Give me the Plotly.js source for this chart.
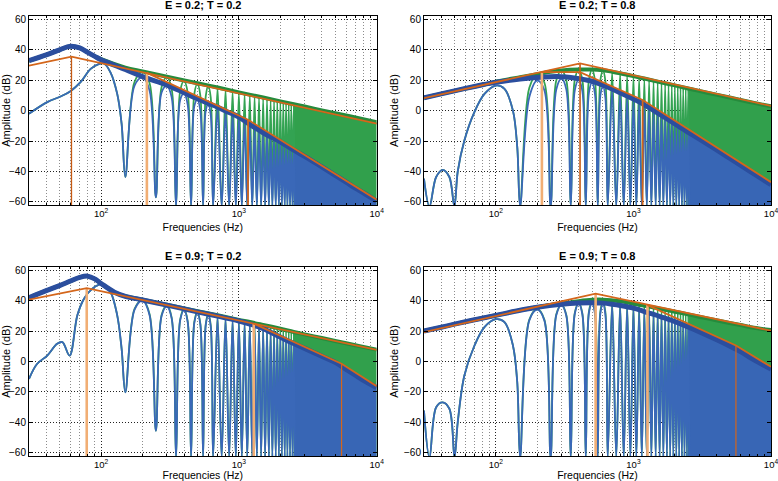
<!DOCTYPE html>
<html><head><meta charset="utf-8">
<script src="https://cdn.plot.ly/plotly-3.0.1.min.js"></script>
<style>html,body{margin:0;padding:0;background:#fff}#chart{width:778px;height:481px}</style>
</head><body><div id="chart"></div>
<script>
// ---------------- shared frequencies (Hz) ----------------
const lobeF = [200,300,400,500,600,700,800,900,1000,1100,1200,1300,1400,1500,1600,1700,1800,1900,2000,2100,2200,2300,2400,2500];
const nullF = [250,350,450,550,650,750,850,950,1050,1150,1250,1350,1450,1550,1650,1750,1850,1950,2050,2150,2250,2350,2450,2550];
const shoulderF = [175,225,275,325,375,425,475,525,575,625];
const titles = ['E = 0.2; T = 0.2', 'E = 0.2; T = 0.8', 'E = 0.9; T = 0.2', 'E = 0.9; T = 0.8'];
const xTickVals = [100, 1000, 10000];
const xTickText = ['10<sup>2</sup>', '10<sup>3</sup>', '10<sup>4</sup>'];

// ---------------- panel 1 : E = 0.2; T = 0.2 ----------------
const p1_lowF = [30, 40.7, 50.8, 60, 71, 84, 97, 105, 117, 131, 141, 150];
const p1_lowDb = [-2, 5.6, 9.3, 12.8, 18.7, 27.4, 30.7, 31, 25.2, 11, -8.7, -43.6];
const p1_bluePeak = [21.8,16.3,11.3,7.3,4.3,1.8,-0.7,-2.7,-4.7,-7,-9.5,-11.3,-13,-14.8,-16.2,-17.5,-18.7,-19.8,-21,-22.1,-23.2,-24.2,-25.2,-26.2];
const p1_blueNull = [-57,-63,-63,-63,-63,-63,-63,-63,-63,-63,-63,-63,-63,-63,-63,-63,-63,-63,-63,-63,-63,-63,-63,-63];
const p1_blueSh = [16.5,13,12,9,7,4,3,0,0,-3];
const p1_greenPeak = [25.5,22,19.6,17.7,16.2,14.9,13.8,12.8,11.8,11,10.3,9.6,9,8.4,7.9,7.4,6.9,6.5,6,5.6,5.2,4.9,4.5,4.2];
const p1_greenSh = [19,18,15.5,14.5,13,12,11,10,9.5,8.5];
const p1_envF = [30,40,50,60,70,80,90,100,150,200,300,400,500,600,700,800,900,1000,1200,1500,2000,2500,3000,4000,5000,6000,7000,8000,10000];
const p1_envDb = [32.8,36.6,40,42.3,41.2,38.3,35.7,33.5,27,22.3,16.8,11.8,7.8,4.8,2.3,-0.2,-2.2,-4.2,-9,-14.5,-20.5,-26,-30,-37,-42.5,-47,-51,-54,-59.5];
const p1_genvF = [30,40,50,60,70,80,90,100,150,200,300,500,700,1000,1500,2000,2500,3000,4000,5000,7000,10000];
const p1_genvDb = [32.8,36.6,40,42.3,41.2,38.3,35.7,33.8,28.3,25.8,22.3,18,15.2,12,8.6,6.1,4.2,2.7,0.2,-1.7,-4.5,-7.6];
const p1_upF = [30, 61, 10000], p1_upDb = [29.6, 35.5, -8.5];
const p1_loF = [215, 1165, 10000], p1_loDb = [24.8, -6, -58.5];
const p1_vF = [61, 215, 1165], p1_vTop = [35.5, 24.8, -6];

// ---------------- panel 2 : E = 0.2; T = 0.8 ----------------
const p2_lowF = [30, 32.9, 36.8, 41.1, 45.9, 49.9, 52.8, 59, 69.9, 82.6, 100, 115.5, 133, 143, 150];
const p2_lowDb = [-44.7, -63, -43.6, -38.9, -43.6, -63, -40, -19.6, -0.8, 11, 16.5, 14.3, 0, -24, -63];
const p2_bluePeak = [19.8,21,20.2,18.5,16,13.5,11,8.8,6.8,5,3,1.2,-0.6,-2.3,-4,-5.5,-6.9,-8.2,-9.5,-10.7,-11.9,-13,-14,-15];
const p2_blueNull = [-63,-63,-63,-63,-63,-63,-63,-63,-63,-63,-63,-63,-63,-63,-63,-63,-63,-63,-63,-63,-63,-63,-63,-63];
const p2_blueSh = [9,13.5,14,14,13.5,13,12,11,10,8.5];
const p2_greenPeak = [24,26.3,26.8,26.8,26.3,25.4,24.4,23.4,22.5,21.7,20.9,20.2,19.6,19,18.5,18,17.5,17,16.5,16.1,15.7,15.3,14.9,14.6];
const p2_greenSh = [15,18.5,20,20,20.5,20.3,20.5,20,20,19.5];
const p2_envF = [30,40,50,60,70,80,90,100,150,200,250,300,350,400,500,600,700,800,900,1000,1100,1200,1400,1600,2000,2500,3000,4000,5000,6000,7000,8000,10000];
const p2_envDb = [8.5,11,13,14.6,15.9,17,17.9,18.6,20.8,21.8,22.3,22.3,21.8,21,19.3,16.8,14.3,11.8,9.6,7.6,5.8,3.8,0.2,-3.2,-8.7,-14.2,-18.5,-25.6,-31.3,-35.9,-39.8,-43.1,-48.7];
const p2_genvF = [30,40,50,60,70,80,90,100,150,200,250,300,400,500,600,700,800,900,1000,1200,1500,2000,2500,3000,4000,5000,6000,7000,8000,10000];
const p2_genvDb = [8.5,11,13,14.6,15.9,17,17.9,19,22,24,25.5,26.4,27,27,26.5,25.6,24.6,23.6,22.7,21.1,19.1,16.6,14.6,13,10.5,8.6,7,5.7,4.6,2.8];
const p2_upF = [30, 409, 10000], p2_upDb = [8.2, 31.1, 3.1];
const p2_loF = [216, 409, 1166, 10000], p2_loDb = [25.3, 25.3, 7, -47];
const p2_vF = [216, 409, 1166], p2_vTop = [25.3, 31.1, 7];

// ---------------- panel 3 : E = 0.9; T = 0.2 ----------------
const p3_lowF = [30, 34.4, 40.7, 48, 52.4, 59.1, 67.3, 75.2, 86.4, 96.7, 102, 117, 131, 141, 150];
const p3_lowDb = [-11.4, -1.5, 3.9, 11.6, 12.7, 3.9, 30.3, 41.2, 47.8, 50.4, 51, 45.6, 30.3, 8.3, -20.2];
const p3_bluePeak = [40,36,33.6,31.8,30.2,29,28,27,26,25,24,23,22,21,19.8,18.6,17.5,16.4,15.4,14.5,13.6,12.7,11.9,11.2];
const p3_blueNull = [-45.5,-63,-63,-63,-63,-63,-63,-63,-63,-63,-63,-63,-63,-63,-63,-63,-63,-63,-63,-63,-63,-63,-63,-63];
const p3_blueSh = [34,30.3,30,28.5,27,26,25.3,24.3,23.7,22.8];
const p3_greenPeak = [40.4,37,34.5,32.6,31.2,29.9,28.8,27.8,27,26.2,25.5,24.9,24.3,23.7,23.2,22.7,22.2,21.8,21.4,21,20.6,20.2,19.8,19.5];
const p3_greenSh = [34.5,31,30.5,29,27.5,26.5,26,25,24.5,23.8];
const p3_envF = [30,40,50,60,70,80,90,100,125,150,200,300,500,700,1000,1200,1500,2000,2500,3000,4000,5000,6000,7000,8000,10000];
const p3_envDb = [41.9,46.5,49.8,52.8,55.2,56,54.2,51.2,45.5,42.8,40.4,37,32.6,29.8,26.6,24.6,21.6,16,11.8,8.6,3.4,-0.6,-5.2,-9,-12.3,-17];
const p3_genvF = [30,40,50,60,70,80,90,100,125,150,200,300,500,700,1000,1200,1500,2000,2500,3000,4000,5000,6000,7000,8000,10000];
const p3_genvDb = [41.9,46.5,49.8,52.8,55.2,56,54.2,51.2,45.5,42.8,40.5,37.2,33,30.3,27.3,25.9,24,21.5,19.4,17.8,15.4,13.5,12,10.7,9.6,7.8];
const p3_upF = [30, 78.7, 10000], p3_upDb = [40.6, 48.2, 7.7];
const p3_loF = [1282, 5560, 10000], p3_loDb = [24.9, -1.5, -16.2];
const p3_vF = [78.7, 1282, 5560], p3_vTop = [48.2, 24.9, -1.5];

// ---------------- panel 4 : E = 0.9; T = 0.8 ----------------
const p4_lowF = [30, 32.9, 36.8, 41, 45.9, 50, 52.8, 59, 69.9, 82.6, 100, 115.5, 133, 143, 150];
const p4_lowDb = [-32.2, -63, -30, -26.8, -31, -63, -39.9, -9.2, 10.5, 22.6, 27.8, 25.9, 10.5, -13.6, -63];
const p4_bluePeak = [34,36.8,37.8,38.1,37.9,37.2,36.4,35.6,34.6,33.6,32.6,31.5,30.6,29.7,28.9,28.1,27.3,26.6,25.9,25.2,24.5,23.8,23.2,22.4];
const p4_blueNull = [-63,-63,-63,-63,-63,-63,-63,-63,-63,-63,-63,-63,-63,-63,-63,-63,-63,-63,-63,-63,-63,-63,-63,-63];
const p4_blueSh = [27,27,30.5,30,31.5,31,32,31.3,31.5,30.8];
const p4_greenPeak = [34.3,37.2,38.5,39.3,39.5,39.2,38.7,38.2,37.7,37.1,36.5,35.9,35.4,34.9,34.4,34,33.6,33.2,32.7,32.3,31.9,31.6,31.2,30.9];
const p4_greenSh = [27.5,27.5,31,30.5,32,31.7,33,32.5,33,32.5];
const p4_envF = [30,40,50,70,100,150,200,300,400,500,600,700,800,1000,1300,1600,2000,2500,3000,4000,5000,6000,7000,8000,10000];
const p4_envDb = [20,22.5,24.5,27.4,30.3,33.6,35.6,37.6,38.4,38.6,38.3,37.6,36.8,35,31.8,29.2,26.2,22.6,19.5,14.4,10.2,6.5,2.8,-0.2,-5];
const p4_genvF = [30,40,50,70,100,150,200,300,400,500,600,800,1000,1300,1600,2000,2500,3000,4000,5000,6000,7000,8000,10000];
const p4_genvDb = [20,22.5,24.5,27.4,30.3,33.6,35.6,38,39.6,40.5,40.6,39.5,37.9,36,34.4,32.7,30.9,29.4,27.1,25.3,23.9,22.7,21.8,20.6];
const p4_upF = [30, 531, 10000], p4_upDb = [19.3, 44.5, 20.2];
const p4_loF = [1265, 5560, 10000], p4_loDb = [37, 10.5, -3.5];
const p4_vF = [531, 1265, 5560], p4_vTop = [44.5, 37, 10.5];

// ---------------- styling ----------------
const Y_MIN = -62, Y_MAX = 62.2, F_MIN = 30, F_MAX = 10000, FILL_FROM = 2500, BASE = -63;
const BLUE = '#3a68b8', BLUE_DARK = '#2b4e9e', BLUE_FILL = '#3866b5';
const GREEN = '#33a352', GREEN_DARK = '#268b3c', GREEN_FILL = '#31a04c';
const ORANGE = '#d4661b', ORANGE_DARK = '#c65a12', ORANGE_LIGHT = '#f1ae74';
const vStyles = [
  [[ORANGE_DARK,1.3],[ORANGE_LIGHT,2.6],[ORANGE,1.8]],
  [[ORANGE_LIGHT,2.6],[ORANGE_DARK,1.6],[ORANGE,1.8]],
  [[ORANGE_LIGHT,2.6],[ORANGE_LIGHT,2.6],[ORANGE,1.2]],
  [[ORANGE_LIGHT,2.6],[ORANGE_LIGHT,2.6],[ORANGE,1.2]]
];

const panels = [
  {lowF:p1_lowF, lowDb:p1_lowDb, bPk:p1_bluePeak, nul:p1_blueNull, bSh:p1_blueSh, gPk:p1_greenPeak, gSh:p1_greenSh, envF:p1_envF, envDb:p1_envDb, genvF:p1_genvF, genvDb:p1_genvDb, upF:p1_upF, upDb:p1_upDb, loF:p1_loF, loDb:p1_loDb, vF:p1_vF, vTop:p1_vTop},
  {lowF:p2_lowF, lowDb:p2_lowDb, bPk:p2_bluePeak, nul:p2_blueNull, bSh:p2_blueSh, gPk:p2_greenPeak, gSh:p2_greenSh, envF:p2_envF, envDb:p2_envDb, genvF:p2_genvF, genvDb:p2_genvDb, upF:p2_upF, upDb:p2_upDb, loF:p2_loF, loDb:p2_loDb, vF:p2_vF, vTop:p2_vTop},
  {lowF:p3_lowF, lowDb:p3_lowDb, bPk:p3_bluePeak, nul:p3_blueNull, bSh:p3_blueSh, gPk:p3_greenPeak, gSh:p3_greenSh, envF:p3_envF, envDb:p3_envDb, genvF:p3_genvF, genvDb:p3_genvDb, upF:p3_upF, upDb:p3_upDb, loF:p3_loF, loDb:p3_loDb, vF:p3_vF, vTop:p3_vTop},
  {lowF:p4_lowF, lowDb:p4_lowDb, bPk:p4_bluePeak, nul:p4_blueNull, bSh:p4_blueSh, gPk:p4_greenPeak, gSh:p4_greenSh, envF:p4_envF, envDb:p4_envDb, genvF:p4_genvF, genvDb:p4_genvDb, upF:p4_upF, upDb:p4_upDb, loF:p4_loF, loDb:p4_loDb, vF:p4_vF, vTop:p4_vTop}
];

// build a lobed line from read points: low part, then shoulder / peak / shoulder / null per harmonic
function lobes(lowF, lowDb, peaks, nulls, sh) {
  const x = lowF.slice(), y = lowDb.slice();
  for (let i = 0; i < lobeF.length; i++) {
    if (2*i < shoulderF.length) { x.push(shoulderF[2*i]); y.push(sh[2*i]); }
    x.push(lobeF[i]); y.push(peaks[i]);
    if (2*i+1 < shoulderF.length) { x.push(shoulderF[2*i+1]); y.push(sh[2*i+1]); }
    x.push(nullF[i]); y.push(nulls[i]);
  }
  return {x, y};
}
// area under an envelope (subset of its points from a frequency on)
function fillPoly(F, Db, fromF) {
  const x = [], y = [];
  F.forEach((f, i) => { if (f >= fromF) { x.push(f); y.push(Db[i]); } });
  x.push(x[x.length-1], x[0]); y.push(BASE, BASE);
  return {x, y};
}

const traces = [];
panels.forEach((p, i) => {
  const xa = i === 0 ? 'x' : 'x' + (i+1), ya = i === 0 ? 'y' : 'y' + (i+1);
  const base = {xaxis: xa, yaxis: ya, mode: 'lines', hoverinfo: 'skip', showlegend: false};
  const gf = fillPoly(p.genvF, p.genvDb, FILL_FROM);
  traces.push({...base, x: gf.x, y: gf.y, fill: 'toself', fillcolor: GREEN_FILL, line: {width: 0, color: GREEN_FILL}});
  const gl = lobes(p.lowF, p.lowDb, p.gPk, p.nul, p.gSh);
  traces.push({...base, x: gl.x, y: gl.y, line: {color: GREEN, width: 1.8, shape: 'spline'}});
  traces.push({...base, x: p.genvF, y: p.genvDb, line: {color: GREEN_DARK, width: 4, shape: 'spline'}});
  const bf = fillPoly(p.envF, p.envDb, FILL_FROM);
  traces.push({...base, x: bf.x, y: bf.y, fill: 'toself', fillcolor: BLUE_FILL, line: {width: 0, color: BLUE_FILL}});
  const bl = lobes(p.lowF, p.lowDb, p.bPk, p.nul, p.bSh);
  traces.push({...base, x: bl.x, y: bl.y, line: {color: BLUE, width: 1.8, shape: 'spline'}});
  traces.push({...base, x: p.envF, y: p.envDb, line: {color: BLUE_DARK, width: 5, shape: 'spline'}});
  p.vF.forEach((f, k) => {
    traces.push({...base, x: [f, f], y: [BASE, p.vTop[k]], line: {color: vStyles[i][k][0], width: vStyles[i][k][1]}});
  });
  traces.push({...base, x: p.upF, y: p.upDb, line: {color: ORANGE, width: 1.8}});
  traces.push({...base, x: p.loF, y: p.loDb, line: {color: ORANGE, width: 1.8}});
});

const FONT = 'Liberation Sans, Arial, Helvetica, sans-serif';
const GRID_DASH = '1px,2px';
function xAxis(domain, anchor) {
  return {
    type: 'log', range: [Math.log10(F_MIN), Math.log10(F_MAX)], domain, anchor,
    tickmode: 'array', tickvals: xTickVals, ticktext: xTickText, ticklabeloverflow: 'allow',
    ticks: 'inside', ticklen: 4, tickcolor: '#000', showline: true, linecolor: '#000', linewidth: 1, mirror: 'ticks',
    showgrid: true, gridcolor: '#222', griddash: GRID_DASH, gridwidth: 1, zeroline: false,
    minor: {tickmode: 'linear', dtick: 'D1', showgrid: true, gridcolor: '#8c8c8c', griddash: GRID_DASH, gridwidth: 1, ticks: 'inside', ticklen: 2, tickcolor: '#000'},
    tickfont: {size: 9.5, family: FONT, color: '#000'},
    title: {text: 'Frequencies (Hz)', font: {size: 10.5, family: FONT, color: '#000'}, standoff: 5}
  };
}
function yAxis(domain, anchor) {
  return {
    range: [Y_MIN, Y_MAX], domain, anchor, tickmode: 'linear', tick0: 0, dtick: 20,
    ticks: 'inside', ticklen: 4, tickcolor: '#000', showline: true, linecolor: '#000', linewidth: 1, mirror: 'ticks',
    showgrid: true, gridcolor: '#222', griddash: GRID_DASH, gridwidth: 1, zeroline: false,
    tickfont: {size: 10, family: FONT, color: '#000'},
    title: {text: 'Amplitude (dB)', font: {size: 11, family: FONT, color: '#000'}, standoff: 3}
  };
}
const dxL = [0, 0.4686], dxR = [0.5323, 1], dyT = [0.5705, 1], dyB = [0, 0.4302];
const layout = {
  width: 778, height: 481, margin: {l: 29, r: 7, t: 16, b: 25},
  paper_bgcolor: '#fff', plot_bgcolor: '#fff', showlegend: false,
  font: {family: FONT, size: 10, color: '#000'},
  xaxis: xAxis(dxL, 'y'), yaxis: yAxis(dyT, 'x'),
  xaxis2: xAxis(dxR, 'y2'), yaxis2: yAxis(dyT, 'x2'),
  xaxis3: xAxis(dxL, 'y3'), yaxis3: yAxis(dyB, 'x3'),
  xaxis4: xAxis(dxR, 'y4'), yaxis4: yAxis(dyB, 'x4'),
  annotations: titles.map((t, i) => ({
    text: '<b>' + t + '</b>', xref: 'paper', yref: 'paper',
    x: ((i % 2 === 0 ? dxL : dxR)[0] + (i % 2 === 0 ? dxL : dxR)[1]) / 2,
    y: (i < 2 ? dyT : dyB)[1], xanchor: 'center', yanchor: 'middle', yshift: 11,
    showarrow: false, font: {size: 11, family: FONT, color: '#000'}
  }))
};
Plotly.newPlot('chart', traces, layout, {staticPlot: true, displayModeBar: false});
</script>
</body></html>
